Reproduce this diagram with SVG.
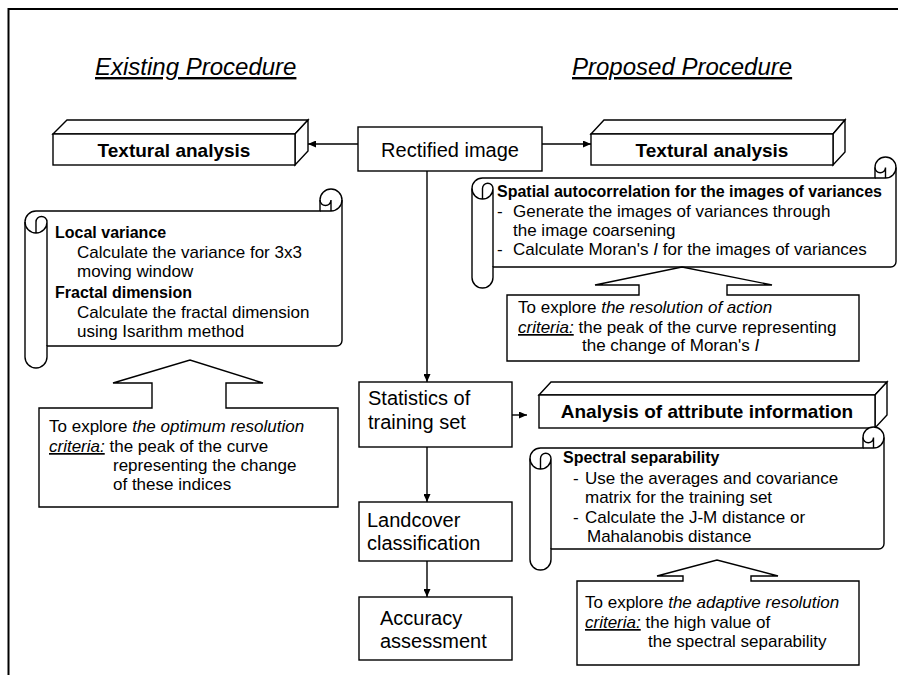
<svg xmlns="http://www.w3.org/2000/svg" width="898" height="675" viewBox="0 0 898 675">
<defs>
<marker id="ah" markerWidth="8" markerHeight="7" refX="8" refY="3.5" orient="auto" markerUnits="userSpaceOnUse"><path d="M0,0 L8,3.5 L0,7 Z" fill="#000"/></marker>
<style>
.box{fill:#fff;stroke:#000;stroke-width:1.4}
.ln{fill:none;stroke:#000;stroke-width:1.4}
.con{fill:none;stroke:#000;stroke-width:1.4;marker-end:url(#ah)}
text{font-family:'Liberation Sans',Arial,sans-serif;font-size:17px;fill:#000}
.b{font-weight:bold;font-size:16px}
.h{font-weight:bold;font-size:19px}
.n{font-size:20px}
.it{font-style:italic}
.u{text-decoration:underline}
.title{font-size:24px;font-style:italic;text-decoration:underline}
</style>
</defs>
<rect width="898" height="675" fill="#fff"/>
<path d="M8.5,675 L8.5,9 L898,9" fill="none" stroke="#000" stroke-width="2"/>

<g id="titles">
<text class="title" x="95" y="75">Existing Procedure</text>
<text class="title" x="572" y="75">Proposed Procedure</text>
</g>

<g id="connectors">
<path class="con" d="M358,144 L308,144"/>
<path class="con" d="M542,144 L591,144"/>
<path class="con" d="M427,171 L427,382"/>
<path class="con" d="M512,415 L527,415"/>
<path class="con" d="M427,447 L427,502"/>
<path class="con" d="M427,561 L427,597"/>
</g>

<g id="textural-left">
<path class="box" d="M53,134 L67,120 L308,120 L295,134 Z"/>
<path class="box" d="M295,134 L308,120 L308,151 L295,165 Z"/>
<rect class="box" x="53" y="134" width="242" height="31"/>
<text class="h" x="174" y="157" text-anchor="middle">Textural analysis</text>
</g>

<g id="rectified">
<rect class="box" x="358" y="127" width="184" height="44"/>
<text class="n" x="450" y="157" text-anchor="middle">Rectified image</text>
</g>

<g id="textural-right">
<path class="box" d="M591,134 L604,120 L845,120 L833,134 Z"/>
<path class="box" d="M833,134 L845,120 L845,152 L833,165 Z"/>
<rect class="box" x="591" y="134" width="242" height="31"/>
<text class="h" x="712" y="157" text-anchor="middle">Textural analysis</text>
</g>

<g id="scroll-left">
<path class="box" d="M25,222 A11,11 0 0 1 36,211 L320,211 L320,200 A11,11 0 0 1 342,200 L342,340.5 A5.5,5.5 0 0 1 336.5,346 L47,346 L47,357 A11,11 0 0 1 25,357 Z"/>
<path class="ln" d="M320,211 L331,211 A11,11 0 0 0 342,200 M331,211 L331,200 A5.5,5.5 0 0 1 320,200 M36,233 L36,222 A5.5,5.5 0 0 1 47,222 A11,11 0 0 1 25,222 M47,222 L47,346"/>
<text class="b" x="55" y="238">Local variance</text>
<text x="77" y="258">Calculate the variance for 3x3</text>
<text x="77" y="277">moving window</text>
<text class="b" x="55" y="298">Fractal dimension</text>
<text x="77" y="318">Calculate the fractal dimension</text>
<text x="77" y="337">using Isarithm method</text>
</g>

<g id="callout-left">
<path class="box" d="M39,408 L152,408 L152,383 L113,383 L190,360 L263,383 L226,383 L226,408 L338,408 L338,507 L39,507 Z"/>
<text x="49" y="432">To explore <tspan class="it">the optimum resolution</tspan></text>
<text x="49" y="452"><tspan class="it u">criteria:</tspan> the peak of the curve</text>
<text x="113" y="471">representing the change</text>
<text x="113" y="490">of  these indices</text>
</g>

<g id="scroll-right">
<path class="box" d="M472,188.5 A10.5,10.5 0 0 1 482.5,178 L875,178 L875,167.5 A10.5,10.5 0 0 1 896,167.5 L896,261.75 A5.25,5.25 0 0 1 890.75,267 L493,267 L493,277.5 A10.5,10.5 0 0 1 472,277.5 Z"/>
<path class="ln" d="M875,178 L885.5,178 A10.5,10.5 0 0 0 896,167.5 M885.5,178 L885.5,167.5 A5.25,5.25 0 0 1 875,167.5 M482.5,199 L482.5,188.5 A5.25,5.25 0 0 1 493,188.5 A10.5,10.5 0 0 1 472,188.5 M493,188.5 L493,267"/>
<text class="b" x="497" y="197">Spatial autocorrelation for the images of variances</text>
<text x="497" y="217">-</text><text x="513" y="217">Generate the images of variances through</text>
<text x="513" y="236">the image coarsening</text>
<text x="497" y="255">-</text><text x="513" y="255">Calculate Moran's <tspan class="it">I</tspan> for the images of variances</text>
</g>

<g id="callout-right">
<path class="box" d="M507,295 L639,295 L639,285 L595,285 L682,267 L772,285 L727,285 L727,295 L859,295 L859,361 L507,361 Z"/>
<text x="518" y="313">To explore <tspan class="it">the resolution of action</tspan></text>
<text x="518" y="333"><tspan class="it u">criteria:</tspan> the peak of the curve representing</text>
<text x="582" y="351">the change of Moran's <tspan class="it">I</tspan></text>
</g>

<g id="statistics">
<rect class="box" x="359" y="382" width="153" height="65"/>
<text class="n" x="368" y="405">Statistics of</text>
<text class="n" x="368" y="429">training set</text>
</g>

<g id="analysis">
<path class="box" d="M539,395 L551,382 L887,382 L875,395 Z"/>
<path class="box" d="M875,395 L887,382 L887,415 L875,428 Z"/>
<rect class="box" x="539" y="395" width="336" height="33"/>
<text class="h" x="707" y="418" text-anchor="middle">Analysis of attribute information</text>
</g>

<g id="scroll-spectral">
<path class="box" d="M530,458.5 A10.5,10.5 0 0 1 540.5,448 L863,448 L863,437.5 A10.5,10.5 0 0 1 884,437.5 L884,543.75 A5.25,5.25 0 0 1 878.75,549 L551,549 L551,559.5 A10.5,10.5 0 0 1 530,559.5 Z"/>
<path class="ln" d="M863,448 L873.5,448 A10.5,10.5 0 0 0 884,437.5 M873.5,448 L873.5,437.5 A5.25,5.25 0 0 1 863,437.5 M540.5,469 L540.5,458.5 A5.25,5.25 0 0 1 551,458.5 A10.5,10.5 0 0 1 530,458.5 M551,458.5 L551,549"/>
<text class="b" x="563" y="463">Spectral separability</text>
<text x="573" y="484">-</text><text x="585" y="484">Use the averages and covariance</text>
<text x="585" y="503">matrix for the training set</text>
<text x="573" y="523">-</text><text x="585" y="523">Calculate the J-M distance or</text>
<text x="587" y="542">Mahalanobis distance</text>
</g>

<g id="callout-spectral">
<path class="box" d="M577,581 L683,581 L683,576 L657,576 L717,560 L778,576 L751,576 L751,581 L859,581 L859,665 L577,665 Z"/>
<text x="585" y="608">To explore <tspan class="it">the adaptive resolution</tspan></text>
<text x="585" y="628"><tspan class="it u">criteria:</tspan> the high value of</text>
<text x="648" y="647">the spectral separability</text>
</g>

<g id="landcover">
<rect class="box" x="359" y="502" width="153" height="59"/>
<text class="n" x="367" y="527">Landcover</text>
<text class="n" x="367" y="550">classification</text>
</g>

<g id="accuracy">
<rect class="box" x="359" y="597" width="153" height="63"/>
<text class="n" x="380" y="625">Accuracy</text>
<text class="n" x="380" y="648">assessment</text>
</g>
</svg>
